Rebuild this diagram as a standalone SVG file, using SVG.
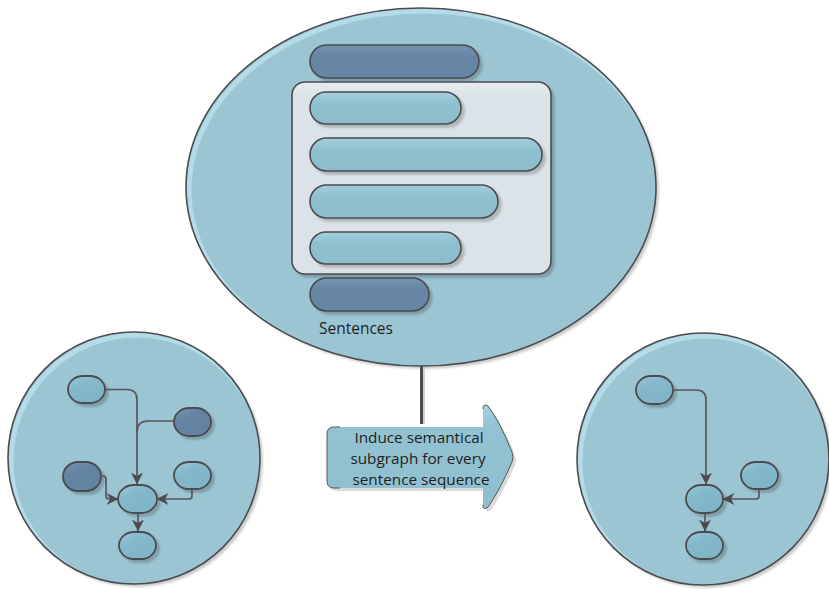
<svg xmlns="http://www.w3.org/2000/svg" width="829" height="589" viewBox="0 0 829 589">
  <style>
    .edge { stroke: #4b4b50; stroke-width: 1.6; }
    .rim { fill: none; stroke: #b4dbe8; stroke-width: 5; }
    .big { fill: #9cc5d3; }
    .pill-l { fill: url(#gLight); stroke: #4b4b50; stroke-width: 1.6; }
    .pill-d { fill: url(#gDark); stroke: #4b4b50; stroke-width: 1.6; }
    .node-l { fill: url(#gNodeL); stroke: #4b4b50; stroke-width: 1.8; }
    .node-d { fill: url(#gNodeD); stroke: #4b4b50; stroke-width: 1.8; }
    .conn { fill: none; stroke: #55555a; stroke-width: 1.7; }
    .lbl { font-family: "Open Sans", "Noto Sans", "DejaVu Sans", sans-serif; fill: #1e1e1e; }
  </style>
  <defs>
    <filter id="sh" x="-10%" y="-10%" width="130%" height="130%">
      <feDropShadow dx="3" dy="3" stdDeviation="1.2" flood-color="#000" flood-opacity="0.2"/>
    </filter>
    <linearGradient id="gLight" x1="0" y1="0" x2="0" y2="1">
      <stop offset="0" stop-color="#a3cfdd"/>
      <stop offset="0.35" stop-color="#8fc0d0"/>
      <stop offset="1" stop-color="#8dbdcd"/>
    </linearGradient>
    <linearGradient id="gDark" x1="0" y1="0" x2="0" y2="1">
      <stop offset="0" stop-color="#7593b1"/>
      <stop offset="0.35" stop-color="#6685a5"/>
      <stop offset="1" stop-color="#6686a6"/>
    </linearGradient>
    <linearGradient id="gNodeL" x1="0" y1="0" x2="0.6" y2="1">
      <stop offset="0" stop-color="#9ccbdb"/>
      <stop offset="0.4" stop-color="#84b8cb"/>
      <stop offset="1" stop-color="#80b4c8"/>
    </linearGradient>
    <linearGradient id="gNodeD" x1="0" y1="0" x2="0.6" y2="1">
      <stop offset="0" stop-color="#7897b4"/>
      <stop offset="0.4" stop-color="#6584a3"/>
      <stop offset="1" stop-color="#6383a3"/>
    </linearGradient>
    <linearGradient id="gPanel" x1="0" y1="0" x2="0" y2="1">
      <stop offset="0" stop-color="#e6edf0"/>
      <stop offset="0.08" stop-color="#dbe3e8"/>
      <stop offset="1" stop-color="#dbe3e8"/>
    </linearGradient>
    <linearGradient id="gArrow" x1="0" y1="0" x2="0" y2="1">
      <stop offset="0" stop-color="#a7d1df"/>
      <stop offset="0.2" stop-color="#93c3d3"/>
      <stop offset="1" stop-color="#8fbfcf"/>
    </linearGradient>
    <clipPath id="cTop"><ellipse cx="421" cy="187" rx="235" ry="179"/></clipPath>
    <clipPath id="cLeft"><circle cx="134" cy="458" r="126"/></clipPath>
    <clipPath id="cRight"><circle cx="703" cy="459" r="126"/></clipPath>
    <marker id="ah" viewBox="0 0 12 12" markerWidth="12" markerHeight="12" refX="11.5" refY="6" orient="auto" markerUnits="userSpaceOnUse">
      <path d="M0,0 L12,6 L0,12 L3.5,6 Z" fill="#4b4b50"/>
    </marker>
  </defs>

  <!-- sentence collection -->
  <g id="sentences">
    <ellipse class="big" cx="421" cy="187" rx="235" ry="179" filter="url(#sh)"/>
    <g clip-path="url(#cTop)">
      <ellipse class="rim" cx="424" cy="190" rx="235" ry="179"/>
    </g>
    <ellipse cx="421" cy="187" rx="235" ry="179" fill="none" class="edge"/>
    <rect class="pill-d" x="310" y="45" width="169" height="33" rx="16.5" filter="url(#sh)"/>
    <rect x="292" y="82" width="259" height="192" rx="13" fill="url(#gPanel)" class="edge" filter="url(#sh)"/>
    <rect class="pill-l" x="310" y="92" width="151" height="32" rx="16" filter="url(#sh)"/>
    <rect class="pill-l" x="310" y="138" width="232" height="33" rx="16.5" filter="url(#sh)"/>
    <rect class="pill-l" x="310" y="185" width="188" height="33" rx="16.5" filter="url(#sh)"/>
    <rect class="pill-l" x="310" y="232" width="151" height="32" rx="16" filter="url(#sh)"/>
    <rect class="pill-d" x="310" y="278" width="119" height="33" rx="16.5" filter="url(#sh)"/>
    <text class="lbl" x="319" y="334" font-size="15.5">Sentences</text>
  </g>

  <!-- induction step -->
  <g id="induce">
    <line x1="424" y1="367" x2="424" y2="424" stroke="#d0d0d0" stroke-width="2"/>
    <line x1="421.5" y1="366" x2="421.5" y2="424" stroke="#4b4b50" stroke-width="3"/>
    <path d="M336,430 H486 V410 Q486,404 491,409 Q503,425 515,455 Q517,461 515,465 Q503,493 491,510 Q486,514 486,508 V491 H336 Q329,491 329,484 V437 Q329,430 336,430 Z" fill="#000" opacity="0.14"/>
    <path d="M334,427 H483 V409 Q483,403 488,406 Q500,422 512,452 Q514,458 512,462 Q500,490 488,507 Q483,511 483,505 V488 H334 Q327,488 327,481 V434 Q327,427 334,427 Z" fill="url(#gArrow)"/>
    <path d="M340,427 H334 Q327,427 327,434 V481 Q327,488 334,488 H340" fill="none" stroke="#55555a" stroke-width="1"/>
    <path d="M483,409 Q483,403 488,406 Q500,422 512,452 Q514,458 512,462 Q500,490 488,507 Q483,511 483,505" fill="none" stroke="#55555a" stroke-width="1"/>
    <text class="lbl" font-size="15.3" text-anchor="middle">
      <tspan x="421" y="443">Induce semantical</tspan>
      <tspan x="420" y="464">subgraph for every</tspan>
      <tspan x="421" y="485">sentence sequence</tspan>
    </text>
  </g>

  <!-- full semantic graph -->
  <g id="graph-full">
    <circle class="big" cx="134" cy="458" r="126" filter="url(#sh)"/>
    <g clip-path="url(#cLeft)">
      <circle class="rim" cx="137" cy="461" r="126"/>
    </g>
    <circle cx="134" cy="458" r="126" fill="none" class="edge"/>
  </g>
  <g id="gf-a"><rect class="node-l" x="68" y="376" width="37" height="27" rx="15" ry="13.5" filter="url(#sh)"/></g>
  <g id="gf-b"><rect class="node-d" x="174" y="408" width="37" height="28" rx="15" ry="14" filter="url(#sh)"/></g>
  <g id="gf-c"><rect class="node-d" x="63" y="462" width="38" height="29" rx="15" ry="14.5" filter="url(#sh)"/></g>
  <g id="gf-d"><rect class="node-l" x="174" y="462" width="37" height="27" rx="15" ry="13.5" filter="url(#sh)"/></g>
  <g id="gf-e"><rect class="node-l" x="118" y="485" width="39" height="28" rx="16" ry="14" filter="url(#sh)"/></g>
  <g id="gf-f"><rect class="node-l" x="119" y="532" width="37" height="27" rx="15" ry="13.5" filter="url(#sh)"/></g>

  <!-- induced subgraph -->
  <g id="graph-sub">
    <circle class="big" cx="703" cy="459" r="126" filter="url(#sh)"/>
    <g clip-path="url(#cRight)">
      <circle class="rim" cx="706" cy="462" r="126"/>
    </g>
    <circle cx="703" cy="459" r="126" fill="none" class="edge"/>
  </g>
  <g id="gs-a"><rect class="node-l" x="636" y="376" width="37" height="28" rx="15" ry="14" filter="url(#sh)"/></g>
  <g id="gs-d"><rect class="node-l" x="741" y="462" width="37" height="27" rx="15" ry="13.5" filter="url(#sh)"/></g>
  <g id="gs-e"><rect class="node-l" x="686" y="485" width="37" height="28" rx="15" ry="14" filter="url(#sh)"/></g>
  <g id="gs-f"><rect class="node-l" x="686" y="532" width="37" height="27" rx="15" ry="13.5" filter="url(#sh)"/></g>

  <g id="connectors">
    <path class="conn" d="M105,389.5 H127 Q137,389.5 137,399.5 V484" marker-end="url(#ah)"/>
    <path class="conn" d="M174,421 H148 Q137,421 137,432"/>
    <path class="conn" d="M101,476 H103 Q106,476 106,479 V496 Q106,499 109,499 H118" marker-end="url(#ah)"/>
    <path class="conn" d="M192,489 V496 Q192,499 189,499 H157" marker-end="url(#ah)"/>
    <path class="conn" d="M138,513 V531" marker-end="url(#ah)"/>
    <path class="conn" d="M673,390 H696 Q706,390 706,400 V484" marker-end="url(#ah)"/>
    <path class="conn" d="M759,489 V496 Q759,499 756,499 H723" marker-end="url(#ah)"/>
    <path class="conn" d="M705,513 V531" marker-end="url(#ah)"/>
  </g>
</svg>
